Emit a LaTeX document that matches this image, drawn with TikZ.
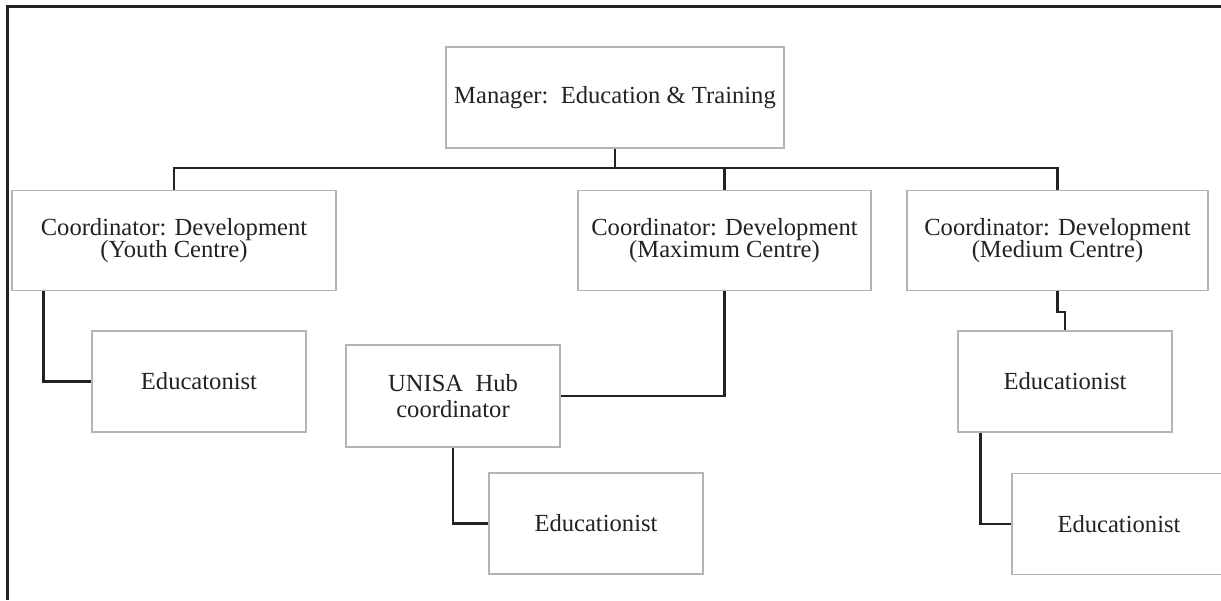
\documentclass[tikz,border=0pt]{standalone}
\usepackage{fontspec}
\setmainfont{Liberation Serif}
\usetikzlibrary{positioning}
\definecolor{boxgray}{HTML}{B4B4B4}
\definecolor{inkgray}{HTML}{222222}
\tikzset{
  box/.style={draw=boxgray, line width=0.7pt, inner sep=0pt, align=center, text=inkgray,
    font=\fontsize{14}{13}\selectfont, minimum height=2.02cm},
  small/.style={box, minimum width=4.28cm},
  link/.style={draw=inkgray, line width=1.4pt},
}
\begin{document}
\begin{tikzpicture}[x=0.02cm, y=-0.02cm]
      \useasboundingbox (0,0) rectangle (1221,600);
      \draw[inkgray, line width=1.4pt] (7.5,600) -- (7.5,6.5) -- (1221,6.5);

      \node[box, minimum width=6.76cm] (mgr) at (615,97.5) {Manager:\ \ Education \& Training};
      \node[box, minimum width=6.48cm, minimum height=2cm] (youth) at (174,240.5) {Coordinator: Development\\(Youth Centre)};
      \node[box, minimum width=5.86cm, minimum height=2cm] (maxc) at (724.5,240.5) {Coordinator: Development\\(Maximum Centre)};
      \node[box, minimum width=6.02cm, minimum height=2cm] (medc) at (1057.5,240.5) {Coordinator: Development\\(Medium Centre)};
      \node[small] (edu1) at (199,381.5) {Educatonist};
      \node[small, minimum height=2.04cm, font=\fontsize{14}{14.7}\selectfont] (unisa) at (453,396) {UNISA\ \ Hub\\coordinator};
      \node[small] (edu2) at (596,523.5) {Educationist};
      \node[small] (edu3) at (1065,381.5) {Educationist};
      \node[small] (edu4) at (1119,524) {Educationist};

      \coordinate (bus) at (615,168);
      \draw[link] (mgr) -- (bus);
      \draw[link] (youth.north) |- (bus) -| (medc.north);
      \draw[link] (maxc.north) -- (maxc.north |- bus);
      \draw[link] (youth.south west) ++(32,0) |- (edu1.west);
      \draw[link] (maxc.south) |- (unisa.east);
      \draw[link] (unisa.south) |- (edu2.west);
      \draw[link] (medc.south) -- ++(0,21) -| (edu3.north);
      \draw[link] (edu3.south west) ++(23,0) |- (edu4.west);
    \end{tikzpicture}
\end{document}
